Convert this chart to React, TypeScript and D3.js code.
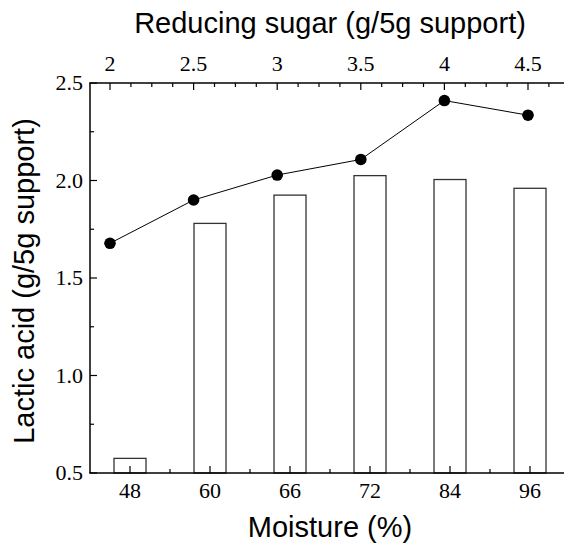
import React from "react";
import * as d3 from "d3";

const moisture = ["48", "60", "66", "72", "84", "96"];
const lacticBars = [0.575, 1.78, 1.925, 2.025, 2.005, 1.96];
const sugar = [2, 2.5, 3, 3.5, 4, 4.5];
const lacticLine = [1.678, 1.9, 2.028, 2.108, 2.41, 2.335];
const yTicks = [0.5, 1.0, 1.5, 2.0, 2.5];
const topTicks = [2, 2.5, 3, 3.5, 4, 4.5];

const W = 564;
const H = 543;
const L = 90, R = 570, T = 83, B = 473;
const serif = "'Liberation Serif', 'Times New Roman', serif";
const sans = "'Liberation Sans', Arial, sans-serif";

export default function App() {
  const x = d3.scaleBand<string>().domain(moisture).range([L, R]).paddingInner(0.6).paddingOuter(0.3);
  const xTop = d3.scaleLinear().domain([2, 4.5]).range([110, 528]);
  const y = d3.scaleLinear().domain([0.5, 2.5]).range([B, T]);

  const yMinor = d3.range(0.75, 2.5, 0.5);
  const topMinor = d3.range(2.125, 4.76, 0.125).filter((v) => Math.abs(v * 2 - Math.round(v * 2)) > 1e-6);
  const bottomMinor = d3.range(1, moisture.length).map((i) => L + x.step() * i);

  const line = d3.line<number>().x((_, i) => xTop(sugar[i])).y((d) => y(d));

  return (
    <svg width={W} height={H} style={{ position: "absolute", left: 0, top: 0, background: "#fff" }}>
      {/* bars */}
      {moisture.map((m, i) => (
        <rect key={m} x={x(m)} y={y(lacticBars[i])} width={x.bandwidth()} height={B - y(lacticBars[i])}
          fill="#fff" stroke="#333" strokeWidth={1.3} />
      ))}
      {/* line */}
      <path d={line(lacticLine) || ""} fill="none" stroke="#000" strokeWidth={1} />
      {lacticLine.map((v, i) => (
        <circle key={i} cx={xTop(sugar[i])} cy={y(v)} r={5.8} fill="#000" />
      ))}
      {/* axes lines */}
      <line x1={L} x2={L} y1={T} y2={B} stroke="#000" strokeWidth={1.5} />
      <line x1={L - 0.75} x2={R} y1={B} y2={B} stroke="#000" strokeWidth={1.5} />
      <line x1={L - 0.75} x2={R} y1={T} y2={T} stroke="#000" strokeWidth={1.5} />
      {/* left ticks */}
      {yTicks.map((t) => (
        <g key={t}>
          <line x1={L} x2={L + 7} y1={y(t)} y2={y(t)} stroke="#000" strokeWidth={1.2} />
          <text x={83} y={y(t)} dy="0.34em" textAnchor="end" fontFamily={serif} fontSize={22}>{t.toFixed(1)}</text>
        </g>
      ))}
      {yMinor.map((t) => (
        <line key={t} x1={L} x2={L + 4} y1={y(t)} y2={y(t)} stroke="#000" strokeWidth={1.2} />
      ))}
      {/* bottom ticks */}
      {moisture.map((m) => {
        const cx = (x(m) as number) + x.bandwidth() / 2;
        return (
          <g key={m}>
            <line x1={cx} x2={cx} y1={B} y2={B - 7} stroke="#000" strokeWidth={1.2} />
            <text x={cx} y={498} textAnchor="middle" fontFamily={serif} fontSize={22}>{m}</text>
          </g>
        );
      })}
      {bottomMinor.map((v) => (
        <line key={v} x1={v} x2={v} y1={B} y2={B - 4} stroke="#000" strokeWidth={1.2} />
      ))}
      {/* top ticks */}
      {topTicks.map((t) => (
        <g key={t}>
          <line x1={xTop(t)} x2={xTop(t)} y1={T} y2={T + 7} stroke="#000" strokeWidth={1.2} />
          <text x={xTop(t)} y={71} textAnchor="middle" fontFamily={serif} fontSize={22}>{String(t)}</text>
        </g>
      ))}
      {topMinor.map((t) => (
        <line key={t} x1={xTop(t)} x2={xTop(t)} y1={T} y2={T + 4} stroke="#000" strokeWidth={1.2} />
      ))}
      {/* titles */}
      <text x={(L + R) / 2} y={33} textAnchor="middle" fontFamily={sans} fontSize={29}>Reducing sugar (g/5g support)</text>
      <text x={(L + R) / 2} y={537} textAnchor="middle" fontFamily={sans} fontSize={29}>Moisture (%)</text>
      <text transform={`translate(34, 281) rotate(-90)`} textAnchor="middle" fontFamily={sans} fontSize={29}>Lactic acid (g/5g support)</text>
    </svg>
  );
}
